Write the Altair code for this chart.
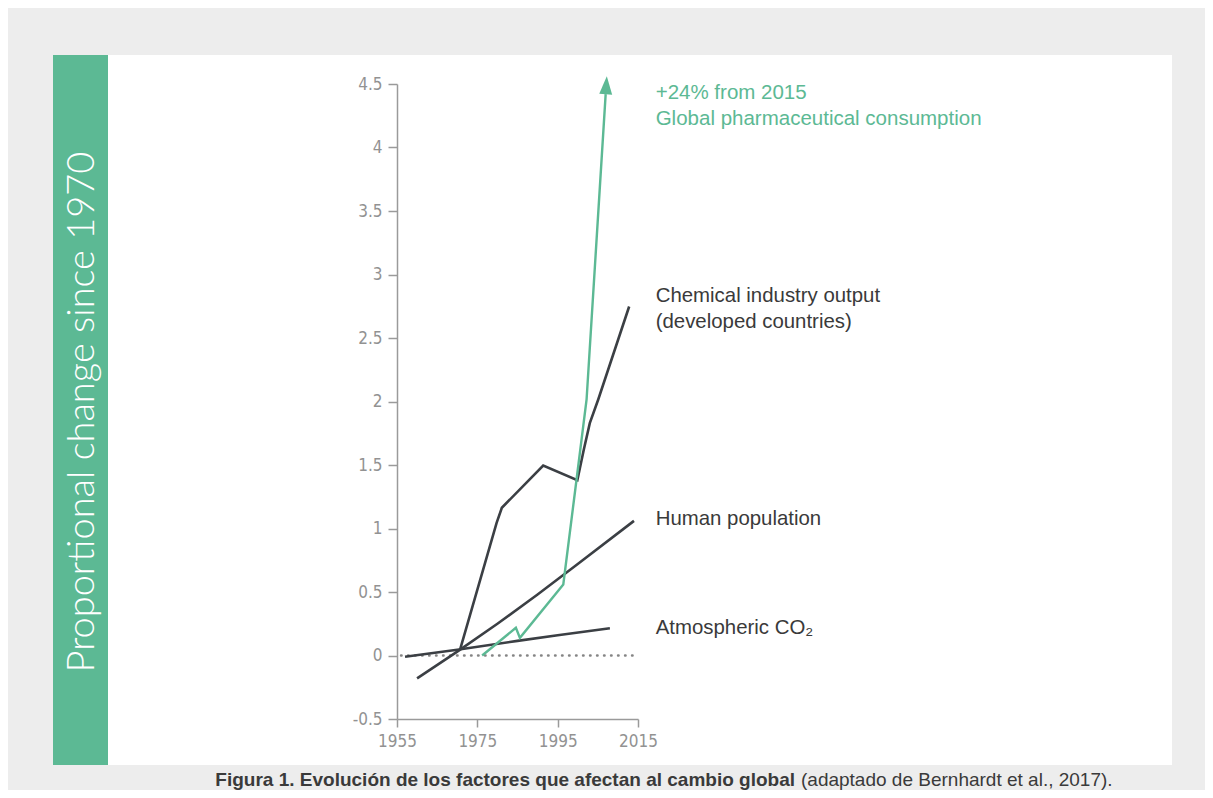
import altair as alt
import pandas as pd

# ---------------- data ----------------
co2_year = [1957, 1970, 1985, 1995, 2008]
co2_val = [-0.01, 0.045, 0.115, 0.16, 0.215]

pop_year = [1960, 1970, 1980, 1990, 2000, 2014]
pop_val = [-0.18, 0.03, 0.25, 0.48, 0.72, 1.06]

chem_year = [1970.7, 1979.8, 1981.1, 1991.4, 1999.9, 2001.5, 2003.0, 2005.1, 2012.8]
chem_val = [0.047, 1.045, 1.163, 1.496, 1.38, 1.62, 1.83, 2.016, 2.748]

pharm_year = [1976.2, 1984.6, 1985.6, 1996.4, 1999.7, 2002.2, 2006.95]
pharm_val = [0.0, 0.218, 0.139, 0.559, 1.386, 2.016, 4.42]

arrow_year = [2007.1]
arrow_val = [4.49]

zero_year = [1956, 2015]
zero_val = [0, 0]

x_ticks = [1955, 1975, 1995, 2015]
y_ticks = [-0.5, 0, 0.5, 1, 1.5, 2, 2.5, 3, 3.5, 4, 4.5]

green_labels = ["+24% from 2015", "Global pharmaceutical consumption"]
green_label_y = [4.378, 4.181]
dark_labels = ["Chemical industry output", "(developed countries)", "Human population", "Atmospheric CO\u2082"]
dark_label_y = [2.78, 2.575, 1.024, 0.173]
label_x = 2019.4

side_title = "Proportional change since 1970"
caption_bold = "Figura 1. Evolución de los factores que afectan al cambio global"
caption_rest = "(adaptado de Bernhardt et al., 2017)."

# ---------------- styling ----------------
GREEN = "#5cb994"
DARK = "#3b3f44"
AXIS_GRAY = "#9a9a9a"
LABEL_GRAY = "#929292"
TEXT_DARK = "#3a3a3a"
NARROW = "Liberation Sans Narrow, Arial Narrow, DejaVu Sans Condensed, sans-serif"
SANS = "Liberation Sans, Arial, Helvetica, sans-serif"


def X(field="year"):
    return alt.X(
        f"{field}:Q",
        scale=alt.Scale(domain=[1955, 2015], nice=False, zero=False),
        axis=alt.Axis(values=x_ticks, title=None, grid=False, format="d",
                      domainColor=AXIS_GRAY, domainWidth=1.5, tickColor=AXIS_GRAY,
                      tickWidth=1.5, tickSize=8, labelFont=NARROW, labelFontSize=17,
                      labelColor=LABEL_GRAY, labelPadding=6, zindex=1, labelFlush=False),
    )


def Y(field="val"):
    return alt.Y(
        f"{field}:Q",
        scale=alt.Scale(domain=[-0.5, 4.5], nice=False, zero=False),
        axis=alt.Axis(values=y_ticks, title=None, grid=False,
                      labelExpr="'' + datum.value",
                      domainColor=AXIS_GRAY, domainWidth=1.5, tickColor=AXIS_GRAY,
                      tickWidth=1.5, tickSize=9, labelFont=NARROW, labelFontSize=17,
                      labelColor=LABEL_GRAY, labelPadding=6, zindex=1),
    )


one = pd.DataFrame({"k": [0]})

panel = alt.Chart(one).mark_rect(fill="#ffffff", stroke=None).encode(
    x=alt.value(-344), x2=alt.value(775), y=alt.value(-29), y2=alt.value(681))
strip = alt.Chart(one).mark_rect(fill=GREEN, stroke=None).encode(
    x=alt.value(-344), x2=alt.value(-289), y=alt.value(-29), y2=alt.value(681))
side = alt.Chart(one).mark_text(angle=270, font="Lato", fontWeight=300, fontSize=38,
                                color="#ffffff", align="center", baseline="middle").encode(
    x=alt.value(-314), y=alt.value(328), text=alt.value(side_title))

zero_df = pd.DataFrame({"year": zero_year, "val": zero_val})
zero = alt.Chart(zero_df).mark_line(color="#858585", strokeWidth=2.4, strokeCap="round",
                                    strokeDash=[0.6, 6.4]).encode(x=X(), y=Y())


def series(years, vals, color, width=2.6):
    df = pd.DataFrame({"year": years, "val": vals, "i": range(len(years))})
    return alt.Chart(df).mark_line(color=color, strokeWidth=width, strokeJoin="miter").encode(
        x=X(), y=Y(), order="i:O")


co2 = series(co2_year, co2_val, DARK)
pop = series(pop_year, pop_val, DARK)
chem = series(chem_year, chem_val, DARK)
pharm = series(pharm_year, pharm_val, GREEN, 2.4)

arrow_df = pd.DataFrame({"year": arrow_year, "val": arrow_val})
arrow = alt.Chart(arrow_df).mark_point(shape="M0,-1L0.72,1L-0.72,1Z", size=324, filled=True,
                                       fill=GREEN, opacity=1, strokeWidth=0, angle=3.6).encode(
    x=X(), y=Y())

g_df = pd.DataFrame({"year": [label_x] * len(green_labels), "val": green_label_y, "t": green_labels})
g_text = alt.Chart(g_df).mark_text(align="left", baseline="alphabetic", font=SANS, fontSize=20.5,
                                   color=GREEN).encode(x=X(), y=Y(), text="t:N")
d_df = pd.DataFrame({"year": [label_x] * len(dark_labels), "val": dark_label_y, "t": dark_labels})
d_text = alt.Chart(d_df).mark_text(align="left", baseline="alphabetic", font=SANS, fontSize=20.4,
                                   color=TEXT_DARK).encode(x=X(), y=Y(), text="t:N")

cap1 = alt.Chart(one).mark_text(align="right", baseline="alphabetic", font=SANS, fontSize=19,
                                fontWeight="bold", color=TEXT_DARK).encode(
    x=alt.value(398), y=alt.value(702), text=alt.value(caption_bold))
cap2 = alt.Chart(one).mark_text(align="left", baseline="alphabetic", font=SANS, fontSize=19,
                                color=TEXT_DARK).encode(
    x=alt.value(404), y=alt.value(702), text=alt.value(caption_rest))

chart = alt.layer(
    panel, strip, side, zero, co2, pop, chem, pharm, arrow, g_text, d_text, cap1, cap2
).properties(
    width=241, height=635,
    autosize=alt.AutoSizeParams(type="none"),
    padding={"left": 389, "top": 76, "right": 567, "bottom": 71},
    background="#ededed",
).configure_view(stroke=None, fill=None)

chart.save("out.html", embed_options={"renderer": "svg", "actions": False})
